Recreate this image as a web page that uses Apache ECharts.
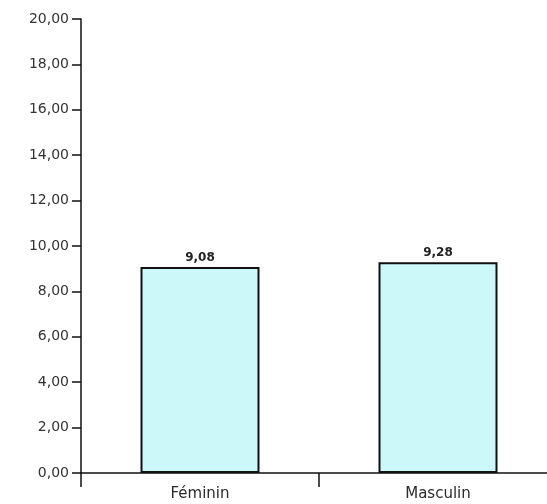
<!DOCTYPE html>
<html>
<head>
<meta charset="utf-8">
<script src="https://cdn.jsdelivr.net/npm/echarts@6/dist/echarts.min.js"></script>
<style>
  html, body { margin: 0; padding: 0; background: #fff; overflow: hidden; }
  #main { width: 557px; height: 504px; }
</style>
</head>
<body>
<div id="main"></div>
<script>
  var categories = ['Féminin', 'Masculin'];
  var values = [9.08, 9.28];

  var fmt = function (v) {
    return v.toFixed(2).replace('.', ',');
  };

  var myChart = echarts.init(document.getElementById('main'));

  var option = {
    animation: false,
    textStyle: { fontFamily: 'DejaVu Sans' },
    grid: {
      left: 81,
      right: 0,
      top: 19,
      bottom: 31
    },
    xAxis: {
      type: 'category',
      data: categories,
      axisLine: { lineStyle: { color: '#111', width: 1.5 } },
      axisTick: { show: true, length: 14, lineStyle: { color: '#111', width: 1.5 } },
      axisLabel: {
        color: '#2a2a2a',
        fontFamily: 'DejaVu Sans',
        fontSize: 15,
        margin: 14
      }
    },
    yAxis: {
      type: 'value',
      min: 0,
      max: 20,
      interval: 2,
      splitLine: { show: false },
      axisLine: { show: true, lineStyle: { color: '#111', width: 1.5 } },
      axisTick: { show: true, length: 9, lineStyle: { color: '#111', width: 1.5 } },
      axisLabel: {
        color: '#333',
        fontFamily: 'DejaVu Sans',
        fontSize: 14,
        margin: 12,
        formatter: fmt
      }
    },
    series: [
      {
        type: 'bar',
        data: values,
        barWidth: '50%',
        itemStyle: {
          color: '#ccf8fa',
          borderColor: '#111',
          borderWidth: 2
        },
        label: {
          show: true,
          position: 'top',
          distance: 3,
          color: '#222',
          fontFamily: 'DejaVu Sans',
          fontSize: 12,
          fontWeight: 'bold',
          formatter: function (p) { return fmt(p.value); }
        }
      }
    ]
  };

  myChart.setOption(option);
</script>
</body>
</html>
